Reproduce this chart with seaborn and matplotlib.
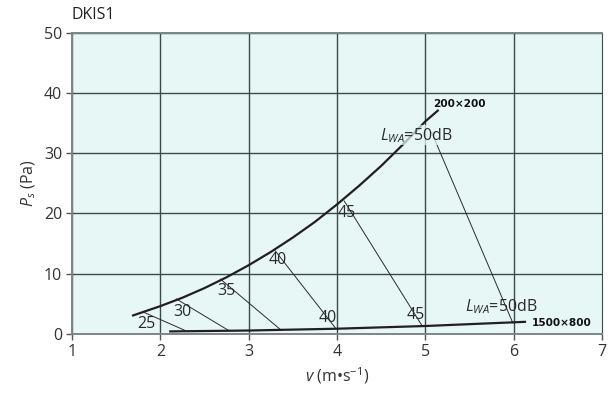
import numpy as np
import pandas as pd
import matplotlib

matplotlib.use("Agg")
import matplotlib.pyplot as plt
import seaborn as sns

sns.set_theme(style="white")
plt.rcParams["font.family"] = ["Open Sans", "DejaVu Sans"]
plt.rcParams["mathtext.fontset"] = "custom"
plt.rcParams["mathtext.rm"] = "Open Sans"
plt.rcParams["mathtext.it"] = "Open Sans:italic"

# duct 200x200 (upper curve)
upper_v = [1.68, 2.0, 2.25, 2.5, 2.75, 3.0, 3.25, 3.5, 3.75, 4.0, 4.25, 4.5, 4.75, 5.0, 5.15]
upper_p = [3.0, 4.6, 6.0, 7.6, 9.4, 11.4, 13.6, 16.0, 18.6, 21.5, 24.6, 27.9, 31.5, 35.3, 37.2]

# duct 1500x800 (lower curve)
lower_v = [2.10, 3.0, 4.0, 5.0, 6.14]
lower_p = [0.4, 0.55, 0.85, 1.3, 2.0]

# sound power isolines, from upper curve down to lower curve
iso_levels = [25, 30, 35, 40, 45, 50]
iso_v_top = [1.81, 2.18, 2.68, 3.30, 4.08, 5.07]
iso_p_top = [3.6, 5.8, 9.1, 13.8, 22.1, 33.5]
iso_v_bot = [2.29, 2.78, 3.36, 3.98, 4.96, 5.99]
iso_p_bot = [0.5, 0.5, 0.7, 1.0, 1.4, 1.8]

# level labels (value, v, p)
lab_text = ["25", "30", "35", "40", "40", "45", "45"]
lab_v = [1.84, 2.25, 2.75, 3.33, 3.89, 4.11, 4.89]
lab_p = [1.7, 3.65, 7.1, 12.2, 2.6, 20.1, 3.2]

bg = "#e7f7f6"
grid_c = "#3c4a4a"

fig = plt.figure(figsize=(6.1, 3.96), dpi=100)
ax = fig.add_axes([0.118, 0.157, 0.869, 0.76])
ax.set_facecolor(bg)

iso = pd.DataFrame({
    "v": iso_v_top + iso_v_bot,
    "p": iso_p_top + iso_p_bot,
    "level": iso_levels + iso_levels,
})
sns.lineplot(data=iso, x="v", y="p", units="level", estimator=None,
             color="#2b2b2b", lw=0.7, ax=ax)

sns.lineplot(x=upper_v, y=upper_p, color="#231f20", lw=1.6, ax=ax,
             solid_joinstyle="round", solid_capstyle="butt")
sns.lineplot(x=lower_v, y=lower_p, color="#231f20", lw=1.6, ax=ax,
             solid_joinstyle="round", solid_capstyle="butt")

for t, x, y in zip(lab_text, lab_v, lab_p):
    ax.text(x, y, t, fontsize=11.5, color="#2b2b2b", ha="center", va="center")

box = dict(facecolor=bg, edgecolor="none", alpha=0.7, pad=0.5)
ax.text(4.49, 32.2, "$\\it{L}_{\\it{WA}}$=50dB", fontsize=11.5, color="#2b2b2b",
        ha="left", va="baseline", bbox=box)
ax.text(5.45, 3.7, "$\\it{L}_{\\it{WA}}$=50dB", fontsize=11.5, color="#2b2b2b",
        ha="left", va="baseline")
ax.text(5.09, 38.2, "200×200", fontsize=7.6, fontweight="bold", color="#111111",
        family="DejaVu Sans", ha="left", va="center")
ax.text(6.21, 1.8, "1500×800", fontsize=7.6, fontweight="bold", color="#111111",
        family="DejaVu Sans", ha="left", va="center")

ax.set_xlim(1, 7)
ax.set_ylim(0, 50)
ax.set_xticks(range(1, 8))
ax.set_yticks(range(0, 51, 10))
ax.grid(True, color=grid_c, lw=1.0)
ax.get_xgridlines()[-1].set_visible(False)
ax.tick_params(axis="both", which="both", length=4, width=1, color="#555555",
               labelsize=11.5, labelcolor="#333333", direction="out",
               bottom=True, left=True, pad=3)

for side in ["left", "top", "bottom"]:
    ax.spines[side].set_color("#7d8686")
    ax.spines[side].set_linewidth(1.4)
ax.spines["right"].set_color(grid_c)
ax.spines["right"].set_linewidth(0.8)

ax.set_xlabel("$\\it{v}$ (m•s$^{\\mathregular{-1}}$)", fontsize=11.5, color="#333333", labelpad=4)
ax.set_ylabel("$\\it{P}_{\\it{s}}$ (Pa)", fontsize=11.5, color="#333333", labelpad=4)
ax.text(0.0, 1.045, "DKIS1", transform=ax.transAxes, fontsize=11.5, color="#222222",
        ha="left", va="baseline")

fig.savefig("out.png", dpi=100)
